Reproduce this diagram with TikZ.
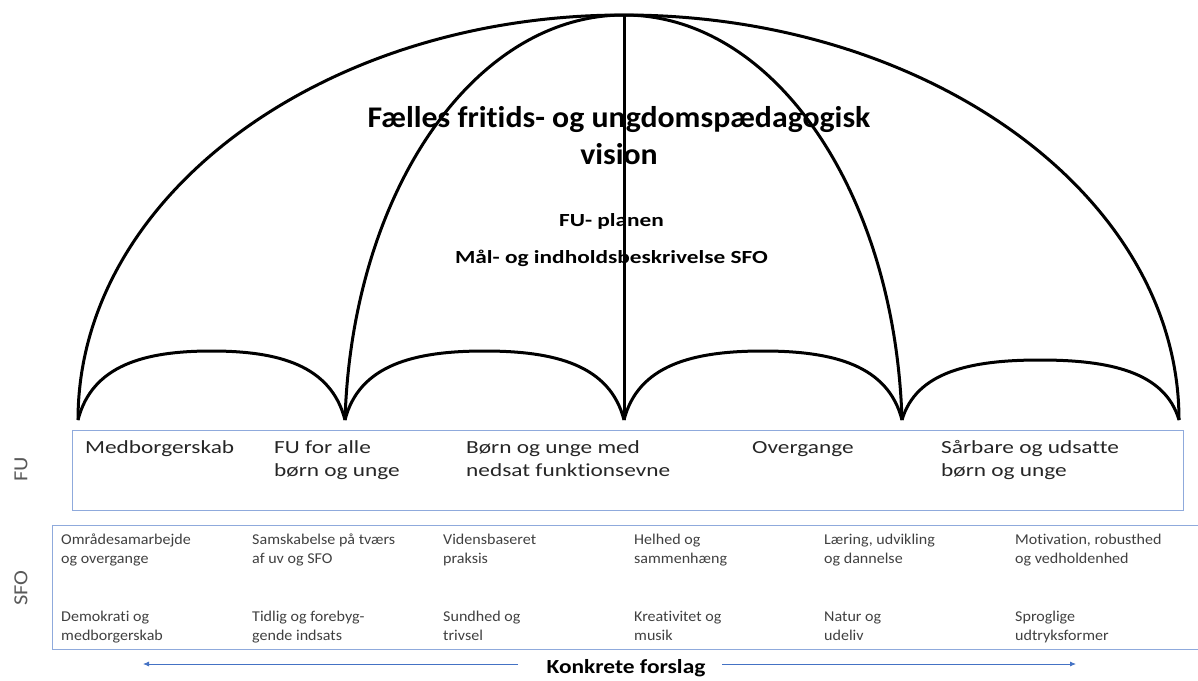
\documentclass[tikz,border=0pt]{standalone}
\usepackage{fontspec}
\setmainfont{Carlito}[Ligatures=NoCommon]
\newfontfamily\fuf{Carlito}[Ligatures=NoCommon, FakeStretch=1.26]
\newfontfamily\sfof{Carlito}[Ligatures=NoCommon, FakeStretch=1.07]
\newfontfamily\titf{Carlito}[Ligatures=NoCommon, FakeStretch=1.06]
\newfontfamily\konf{Carlito}[Ligatures=NoCommon, FakeStretch=1.17]
\newfontfamily\sidef{Carlito}[Ligatures=NoCommon, FakeStretch=1.12]
\usetikzlibrary{arrows.meta}
\definecolor{boxblue}{HTML}{8FAADC}
\definecolor{arrblue}{HTML}{4472C4}
\definecolor{sidegray}{HTML}{595959}
\definecolor{smallgray}{HTML}{404040}
\definecolor{futxt}{HTML}{262626}
\tikzset{
  rib/.style={line width=3pt, black},
  futext/.style={anchor=base west, align=left, inner sep=0pt, font=\fuf\fontsize{18.5}{23}\selectfont, text=futxt},
  sfotext/.style={anchor=base west, align=left, inner sep=0pt, font=\sfof\fontsize{15}{19}\selectfont, text=smallgray},
  sidelabel/.style={rotate=90, inner sep=0pt, font=\sidef\fontsize{20}{24}\selectfont, text=sidegray},
  bluearrow/.style={draw=arrblue, line width=0.8pt, -{Latex[length=6pt,width=5pt]}},
}
\begin{document}
\begin{tikzpicture}[x=1pt,y=-1pt]
\useasboundingbox (0,0) rectangle (1198,680);
% key points
\coordinate (top) at (624,15);
\coordinate (c0) at (78,420);
\coordinate (c1) at (345,420);
\coordinate (c2) at (624,420);
\coordinate (c3) at (902,420);
\coordinate (c4) at (1179,420);
% outer ribs
\draw[rib] (c0) .. controls (78,196) and (323,15) .. (top)
           .. controls (929,15) and (1179,196) .. (c4);
% inner ribs
\draw[rib] (c1) .. controls (352,192) and (474,15) .. (top)
           .. controls (774,15) and (895,192) .. (c3);
% central shaft
\draw[rib] (top) -- (c2);
% scallops
\draw[rib] (c0) .. controls (92,365) and (145,351) .. (211.5,351) .. controls (278,351) and (331,365) .. (c1);
\draw[rib] (c1) .. controls (359,365) and (414,351) .. (484.5,351) .. controls (555,351) and (610,365) .. (c2);
\draw[rib] (c2) .. controls (638,365) and (693,351) .. (763,351) .. controls (833,351) and (888,365) .. (c3);
\draw[rib] (c3) .. controls (916,372) and (970,360) .. (1040,360) .. controls (1110,360) and (1165,372) .. (c4);
% titles (base anchor = baseline of the last line)
\node[anchor=base, align=center, inner sep=0pt, font=\titf\bfseries\fontsize{30}{37}\selectfont] (title) at (619,164) {Fælles fritids- og ungdomspædagogisk\\vision};
\node[anchor=base, inner sep=0pt, font=\fuf\bfseries\fontsize{18.5}{23}\selectfont] (fuplan) at (611.5,226) {FU- planen};
\node[anchor=base, inner sep=0pt, font=\fuf\bfseries\fontsize{18.5}{23}\selectfont] (maal) at (611.5,263) {Mål- og indholdsbeskrivelse SFO};
% FU box
\node[draw=boxblue, line width=1pt, minimum width=1111pt, minimum height=80pt, inner sep=0pt] (fubox) at (627.5,470) {};
\node[futext] (fu1) at (85,453) {Medborgerskab};
\node[futext] (fu2) at (274,476) {FU for alle\\børn og unge};
\node[futext] (fu3) at (466,476) {Børn og unge med\\nedsat funktionsevne};
\node[futext] (fu4) at (752,453) {Overgange};
\node[futext] (fu5) at (941,476) {Sårbare og udsatte\\børn og unge};
% SFO box (open on the right)
\draw[draw=boxblue, line width=1pt] (1198,525) -- (52,525) -- (52,649) -- (1198,649);
\node[sfotext] (s1) at (61,563) {Områdesamarbejde\\og overgange};
\node[sfotext] (s2) at (252,563) {Samskabelse på tværs\\af uv og SFO};
\node[sfotext] (s3) at (443,563) {Vidensbaseret\\praksis};
\node[sfotext] (s4) at (634,563) {Helhed og\\sammenhæng};
\node[sfotext] (s5) at (824,563) {Læring, udvikling\\og dannelse};
\node[sfotext] (s6) at (1015,563) {Motivation, robusthed\\og vedholdenhed};
\node[sfotext] (t1) at (61,640) {Demokrati og\\medborgerskab};
\node[sfotext] (t2) at (252,640) {Tidlig og forebyg-\\gende indsats};
\node[sfotext] (t3) at (443,640) {Sundhed og\\trivsel};
\node[sfotext] (t4) at (634,640) {Kreativitet og\\musik};
\node[sfotext] (t5) at (824,640) {Natur og\\udeliv};
\node[sfotext] (t6) at (1015,640) {Sproglige\\udtryksformer};
% side labels
\node[sidelabel] (fulab) at (21,469) {FU};
\node[sidelabel] (sfolab) at (21,588) {SFO};
% bottom
\node[anchor=base, inner sep=0pt, font=\konf\bfseries\fontsize{20}{24}\selectfont] (konk) at (626,673) {Konkrete forslag};
\coordinate (la) at (143,664);
\coordinate (ra) at (1076,664);
\draw[bluearrow] (518,664) -- (la);
\draw[bluearrow] (722,664) -- (ra);
\end{tikzpicture}
\end{document}
